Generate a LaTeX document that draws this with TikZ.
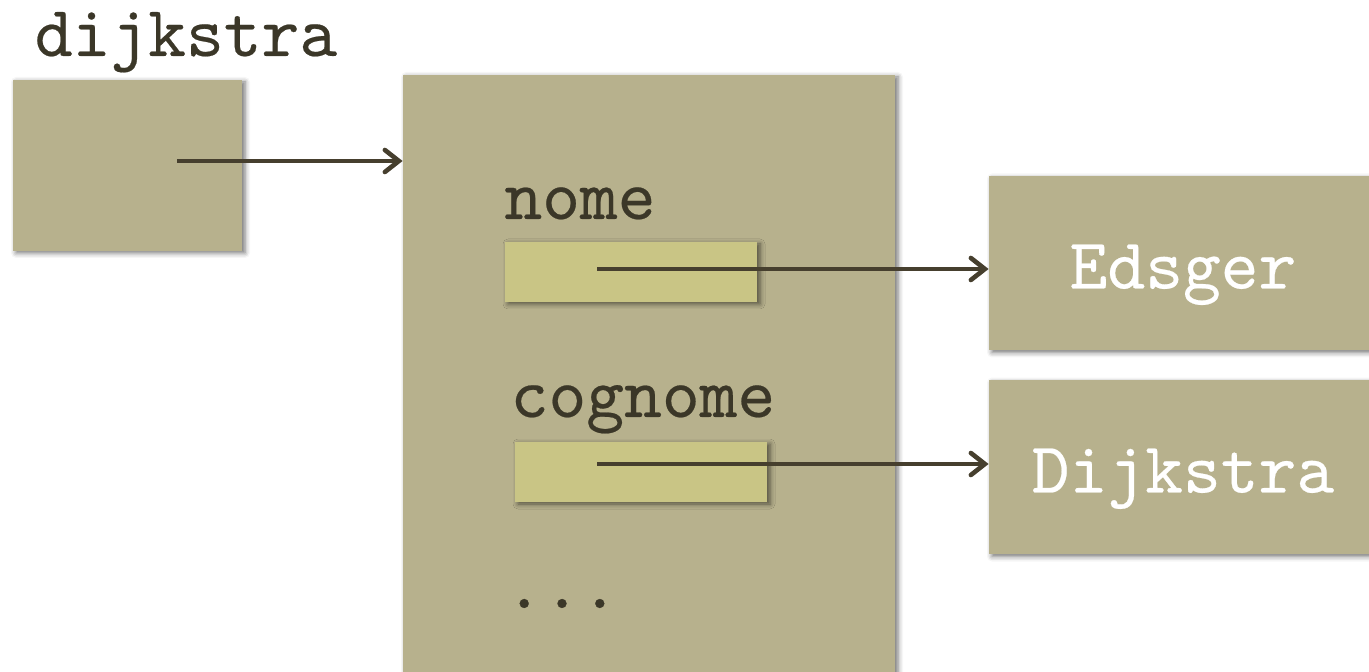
\documentclass[tikz,border=0pt]{standalone}
\usepackage{tikz}
\usetikzlibrary{arrows.meta,shadows.blur}
\usepackage{xcolor}
\usepackage{fontspec}
\newfontfamily\codefont{lmmono10-regular}[Extension=.otf, FakeBold=0.3]
\definecolor{khaki}{HTML}{B7B18D}
\definecolor{slotfill}{HTML}{C9C585}
\definecolor{dark}{HTML}{463F2E}
\definecolor{ink}{HTML}{3B3728}
\tikzset{
  box/.style={fill=khaki, inner sep=0pt, blur shadow={shadow xshift=1.5pt, shadow yshift=-1pt, shadow blur radius=2.5pt, shadow opacity=55}},
  varbox/.style={box, minimum width=114.5pt, minimum height=85.5pt},
  objbox/.style={box, minimum width=246pt, minimum height=312.5pt},
  slotbox/.style={box, fill=slotfill, minimum width=126pt, minimum height=30pt},
  valbox/.style={box, minimum width=194pt, minimum height=87pt, text=white, font=\codefont\fontsize{36}{36}\selectfont, text height=25pt, text depth=0pt},
  fieldname/.style={text=ink, font=\codefont\fontsize{36}{36}\selectfont, anchor=base, inner sep=0pt},
  arrow/.style={-{Straight Barb[length=7pt, width=11pt, line width=2.3pt, line cap=round]}, line width=2.3pt, draw=dark}
}

\begin{document}
\begin{tikzpicture}[x=1pt, y=1pt]
  \useasboundingbox (0,0) rectangle (684.5,-336);
  \clip (0,0) rectangle (684.5,-336);
  % reference variable
  \node[fieldname] (varname) at (93,-28) {dijkstra};
  \node[varbox] (var) at (63.75,-82.75) {};
  % the object
  \node[objbox] (obj) at (324.5,-193.75) {};
  \node[fieldname] (nomename) at (290,-109.5) {nome};
  \node[slotbox] (nome) at (315.5,-136) {};
  \node[fieldname] (cognomename) at (321.5,-208.5) {cognome};
  \node[slotbox] (cognome) at (320.5,-236) {};
  \node[fieldname] (dots) at (281,-304) {...};
  % the strings
  \node[valbox] (edsger) at (591.5,-131.75) {Edsger};
  \node[valbox] (dijk) at (591.5,-233.75) {Dijkstra};
  % pointers
  \coordinate (p0) at ([xshift=24.75pt, yshift=2.25pt]var.center);
  \coordinate (p1) at ([xshift=-17pt, yshift=1.5pt]nome.center);
  \coordinate (p2) at ([xshift=-22pt, yshift=4pt]cognome.center);
  \draw[arrow] (p0) -- (p0 -| obj.west);
  \draw[arrow] (p1) -- (p1 -| edsger.west);
  \draw[arrow] (p2) -- (p2 -| dijk.west);
\end{tikzpicture}
\end{document}
